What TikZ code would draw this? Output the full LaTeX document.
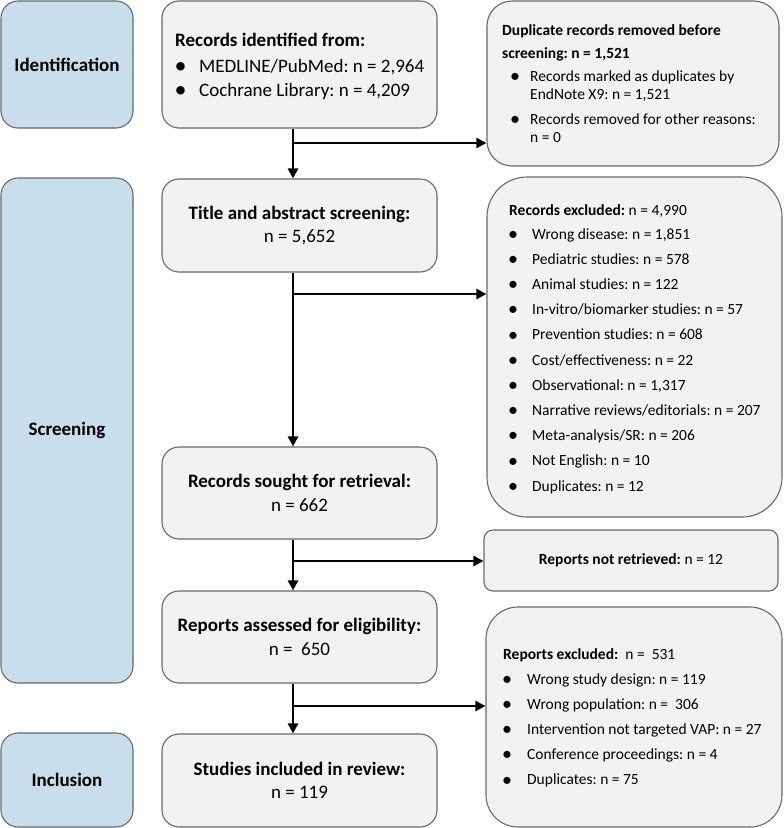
\documentclass[tikz,border=0pt]{standalone}
\usepackage{fontspec}
\setmainfont{Carlito}
\frenchspacing
\usetikzlibrary{arrows.meta}
\definecolor{phasefill}{RGB}{200,222,236}
\definecolor{boxfill}{RGB}{242,242,242}
\definecolor{edge}{RGB}{105,105,105}
\newcommand{\sbul}[1]{\llap{\raisebox{-1.2pt}{\fontsize{20}{20}\selectfont\textbullet}\hspace{#1}}}
\newcommand{\bbul}[1]{\llap{\raisebox{-1.5pt}{\fontsize{24}{24}\selectfont\textbullet}\hspace{#1}}}
\tikzset{
  phase/.style={draw=edge, fill=phasefill, line width=1.1pt, rounded corners=17pt, inner sep=0pt,
    font=\fontsize{19}{23.5}\selectfont\bfseries},
  mainbox/.style={draw=edge, fill=boxfill, line width=1.1pt, rounded corners=17pt, inner sep=0pt,
    align=center, font=\fontsize{19}{23.5}\selectfont},
  sidebox/.style={draw=edge, fill=boxfill, line width=1.1pt, inner sep=0pt},
  big/.style={font=\fontsize{19}{23.5}\selectfont, anchor=base west, inner sep=0pt},
  small/.style={font=\fontsize{15.5}{19}\selectfont, anchor=base west, inner sep=0pt},
  arr/.style={line width=2.9pt, -{Triangle[length=10pt,width=10pt]}},
}
\begin{document}
\begin{tikzpicture}[x=1pt,y=-1pt]
\useasboundingbox (0,0) rectangle (784,828);
% phase boxes
\node[phase, minimum width=132pt, minimum height=127pt] (pid) at (67,64.5) {Identification};
\node[phase, minimum width=132pt, minimum height=505pt] (pscr) at (67,430.5) {Screening};
\node[phase, minimum width=132pt, minimum height=94pt] (pinc) at (67,780) {Inclusion};
% main boxes
\node[mainbox, minimum width=275pt, minimum height=127pt] (b1) at (299.5,64.5) {};
\node[mainbox, minimum width=275pt, minimum height=93pt] (b2) at (299.5,225.5)
  {\textbf{Title and abstract screening:}\\ n = 5,652};
\node[mainbox, minimum width=275pt, minimum height=92pt] (b3) at (299.5,493)
  {\textbf{Records sought for retrieval:}\\ n = 662};
\node[mainbox, minimum width=275pt, minimum height=92pt] (b4) at (299.5,637)
  {\textbf{Reports assessed for eligibility:}\\ n = \ 650};
\node[mainbox, minimum width=275pt, minimum height=93pt] (b5) at (299.5,780.5)
  {\textbf{Studies included in review:}\\ n = 119};
% B1 text
\node[big] (b1t) at (175,46.5) {\bfseries Records identified from:};
\node[big] (b1a) at (199,72) {\bbul{12.5pt}MEDLINE/PubMed: n = 2,964};
\node[big] (b1b) at (199,96) {\bbul{12.5pt}Cochrane Library: n = 4,209};
% side boxes
\node[sidebox, rounded corners=25pt, minimum width=292pt, minimum height=165pt] (r1) at (633,83.5) {};
\node[sidebox, rounded corners=40pt, minimum width=295pt, minimum height=340pt] (r2) at (634.5,347) {};
\node[sidebox, rounded corners=9pt, minimum width=294pt, minimum height=61pt,
  font=\fontsize{15.5}{19}\selectfont] (r3) at (631,560.5) {\textbf{Reports not retrieved:} n = 12};
\node[sidebox, rounded corners=32pt, minimum width=296pt, minimum height=220pt] (r4) at (634,717) {};
% R1 text
\node[small] (r1t1) at (502,35) {\bfseries Duplicate records removed before};
\node[small] (r1t2) at (502,58) {\bfseries screening: n = 1,521};
\node[small] (r1a) at (530,81) {\sbul{10pt}Records marked as duplicates by};
\node[small] (r1b) at (530,99) {EndNote X9: n = 1,521};
\node[small] (r1c) at (530,124) {\sbul{10pt}Records removed for other reasons:};
\node[small] (r1d) at (530,142) {n = 0};
% R2 text
\node[small] (r2t) at (509,215) {\textbf{Records excluded:} n = 4,990};
\foreach \t [count=\i from 0] in {{Wrong disease: n = 1,851},{Pediatric studies: n = 578},
  {Animal studies: n = 122},{In-vitro/biomarker studies: n = 57},{Prevention studies: n = 608},
  {Cost/effectiveness: n = 22},{Observational: n = 1,317},{Narrative reviews/editorials: n = 207},
  {Meta-analysis/SR: n = 206},{Not English: n = 10},{Duplicates: n = 12}}
  \node[small] (r2i\i) at (532,{239+25.2*\i}) {\sbul{14pt}\t};
% R4 text
\node[small] (r4t) at (503,659) {\textbf{Reports excluded:}\ \ n = \ 531};
\foreach \t [count=\i from 0] in {{Wrong study design: n = 119},{Wrong population: n = \ 306},
  {Intervention not targeted VAP: n = 27},{Conference proceedings: n = 4},{Duplicates: n = 75}}
  \node[small] (r4i\i) at (527,{684+25.2*\i}) {\sbul{15pt}\t};
% connectors
\coordinate (col) at (293,0);
\draw[arr] (b1.south -| col) -- (b2.north -| col);
\draw[arr] (b2.south -| col) -- (b3.north -| col);
\draw[arr] (b3.south -| col) -- (b4.north -| col);
\draw[arr] (b4.south -| col) -- (b5.north -| col);
\coordinate (j1) at (291.6,143);
\coordinate (j2) at (291.6,294);
\coordinate (j3) at (291.6,561);
\coordinate (j4) at (291.6,706);
\draw[arr] (j1) -- (j1 -| r1.west);
\draw[arr] (j2) -- (j2 -| r2.west);
\draw[arr] (j3) -- (j3 -| r3.west);
\draw[arr] (j4) -- (j4 -| r4.west);
\end{tikzpicture}
\end{document}
